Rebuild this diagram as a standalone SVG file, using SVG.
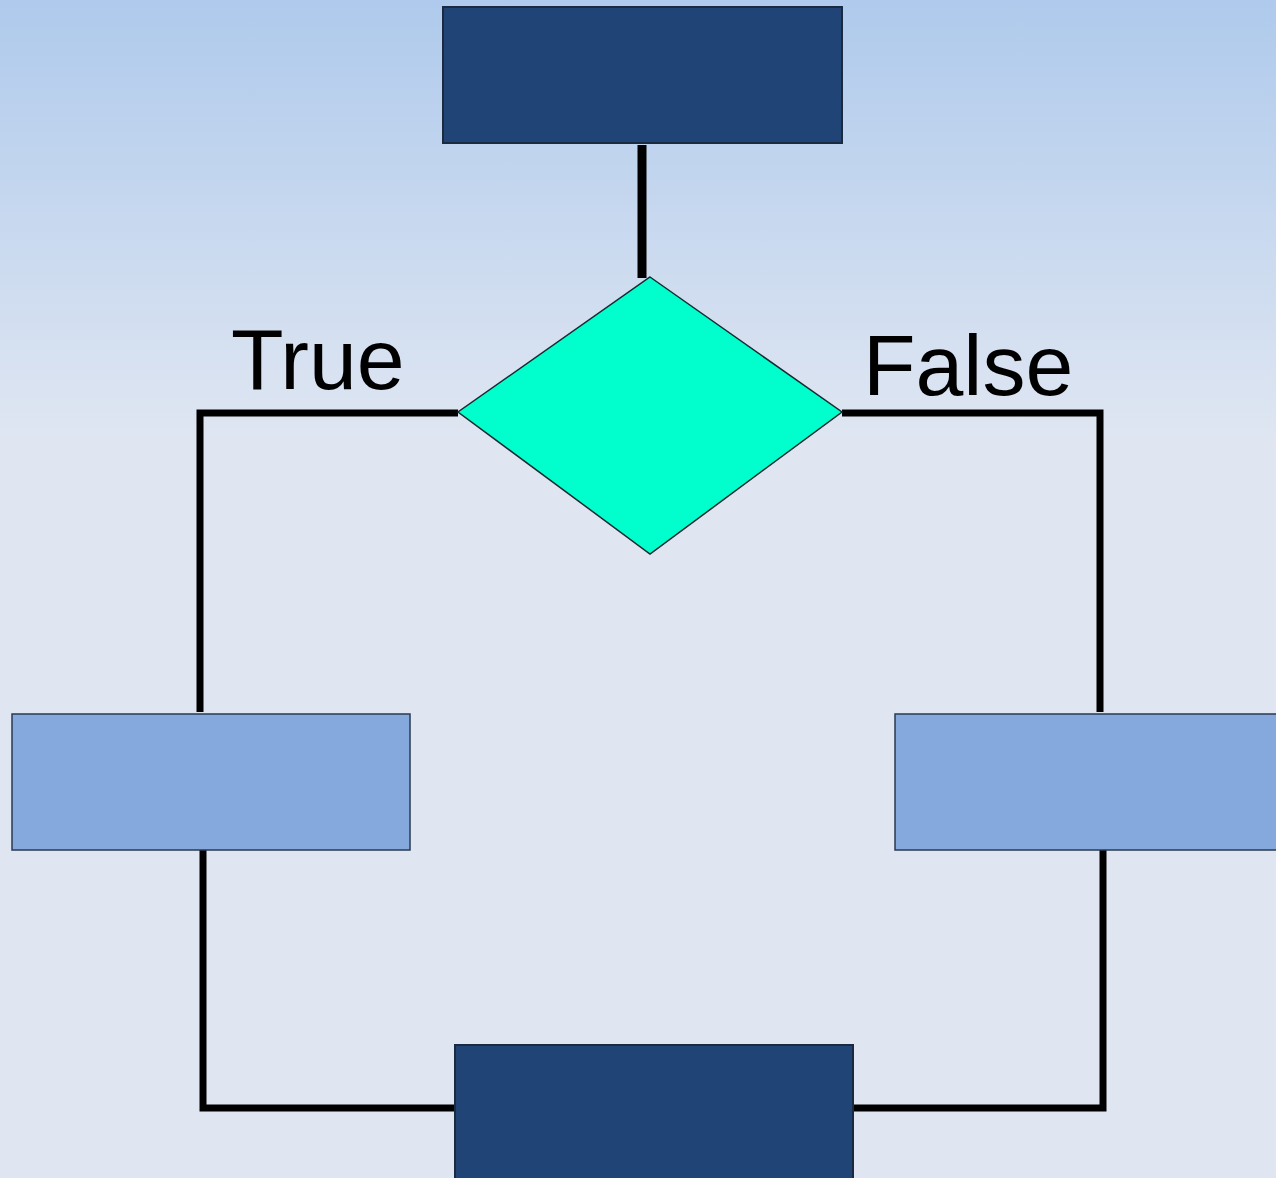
<svg xmlns="http://www.w3.org/2000/svg" width="1276" height="1178" viewBox="0 0 1276 1178">
<defs>
<linearGradient id="bg" x1="0" y1="0" x2="0" y2="1178" gradientUnits="userSpaceOnUse">
<stop offset="0" stop-color="#afcaec"/>
<stop offset="0.37" stop-color="#dfe6f2"/>
<stop offset="1" stop-color="#dfe6f2"/>
</linearGradient>
<style>
.dark{fill:#204476;stroke:#1a2a40;stroke-width:2}
.light{fill:#86a9dd;stroke:#2a3a50;stroke-width:1.5}
.dec{fill:#00ffcc;stroke:#1a2a30;stroke-width:1.5}
.conn{fill:none;stroke:#000;stroke-width:7;stroke-linejoin:miter}
.lbl{font-family:"Liberation Sans",Arial,sans-serif;font-size:86px;fill:#000}
</style>
</defs>
<rect x="0" y="0" width="1276" height="1178" fill="url(#bg)"/>
<g id="connectors">
<line class="conn" x1="642" y1="145" x2="642" y2="278" style="stroke-width:9"/>
<polyline class="conn" points="458,413 200,413 200,712"/>
<polyline class="conn" points="842,413 1100,413 1100,712"/>
<polyline class="conn" points="203,850 203,1108 455,1108"/>
<polyline class="conn" points="1103,850 1103,1108 852,1108"/>
</g>
<g id="start"><rect class="dark" x="443" y="7" width="399" height="136"/></g>
<g id="decision"><polygon class="dec" points="650,277 842,412 650,554 458,412"/></g>
<g id="true-branch"><rect class="light" x="12" y="714" width="398" height="136"/></g>
<g id="false-branch"><rect class="light" x="895" y="714" width="390" height="136"/></g>
<g id="end"><rect class="dark" x="455" y="1045" width="398" height="140"/></g>
<g id="labels">
<text class="lbl" x="231" y="389">True</text>
<text class="lbl" x="863" y="395">False</text>
</g>
</svg>
